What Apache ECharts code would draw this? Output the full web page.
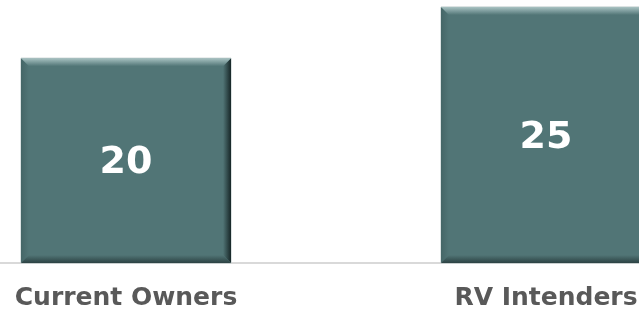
<!DOCTYPE html>
<html>
<head>
<meta charset="utf-8">
<script src="https://cdn.jsdelivr.net/npm/echarts@6/dist/echarts.min.js"></script>
<style>
  html, body { margin: 0; padding: 0; background: #fff; }
  #chart { width: 639px; height: 311px; }
</style>
</head>
<body>
<div id="chart"></div>
<script>
var categories = ["Current Owners", "RV Intenders"];
var values = [20, 25];

var myChart = echarts.init(document.getElementById("chart"));

function grad(x, y, x2, y2, from, to) {
  return new echarts.graphic.LinearGradient(x, y, x2, y2, [
    { offset: 0, color: from }, { offset: 1, color: to }
  ]);
}

// bevelled bar, drawn from the axis coords
function renderBevelBar(params, api) {
  var top = api.coord([api.value(0), api.value(1)]);
  var base = api.coord([api.value(0), 0]);
  var w = api.size([1, 0])[0] * 0.5;
  var x0 = top[0] - w / 2, x1 = top[0] + w / 2;
  var y0 = top[1], y1 = base[1];
  var b = 8; // bevel size
  var main = "#517576";
  return {
    type: "group",
    children: [
      { type: "rect", shape: { x: x0, y: y0, width: w, height: y1 - y0 },
        style: { fill: main, stroke: "#b9c6c6", lineWidth: 1 } },
      // left bevel
      { type: "polygon", shape: { points: [[x0, y0], [x0 + b, y0 + b], [x0 + b, y1 - b], [x0, y1]] },
        style: { fill: grad(0, 0, 1, 0, "#456667", main) } },
      // right bevel
      { type: "polygon", shape: { points: [[x1, y0], [x1, y1], [x1 - b, y1 - b], [x1 - b, y0 + b]] },
        style: { fill: grad(1, 0, 0, 0, "#172627", main) } },
      // bottom bevel
      { type: "polygon", shape: { points: [[x0, y1], [x0 + b, y1 - b], [x1 - b, y1 - b], [x1, y1]] },
        style: { fill: grad(0, 1, 0, 0, "#2c4243", main) } },
      // top bevel
      { type: "polygon", shape: { points: [[x0, y0], [x1, y0], [x1 - b, y0 + b], [x0 + b, y0 + b]] },
        style: { fill: grad(0, 0, 0, 1, "#a9c3c3", main) } },
      { type: "text",
        style: { text: String(api.value(1)), x: top[0], y: (y0 + y1) / 2 + 3,
          align: "center", verticalAlign: "middle", fill: "#ffffff",
          font: "bold 38px 'DejaVu Sans'" } }
    ]
  };
}

var option = {
  animation: false,
  grid: { left: -84, width: 840, top: 7, bottom: 48, containLabel: false, outerBoundsMode: "none" },
  xAxis: {
    type: "category",
    data: categories,
    axisLine: { lineStyle: { color: "#d9d9d9", width: 2 } },
    axisTick: { show: false },
    axisLabel: {
      color: "#595959",
      fontFamily: "DejaVu Sans",
      fontWeight: "bold",
      fontSize: 25,
      margin: 23
    }
  },
  yAxis: {
    type: "value",
    min: 0,
    max: 25,
    show: false,
    splitLine: { show: false }
  },
  series: [
    {
      type: "custom",
      renderItem: renderBevelBar,
      encode: { x: 0, y: 1 },
      data: values.map(function (v, i) { return [i, v]; }),
      z: 1
    }
  ]
};
myChart.setOption(option);
</script>
</body>
</html>
